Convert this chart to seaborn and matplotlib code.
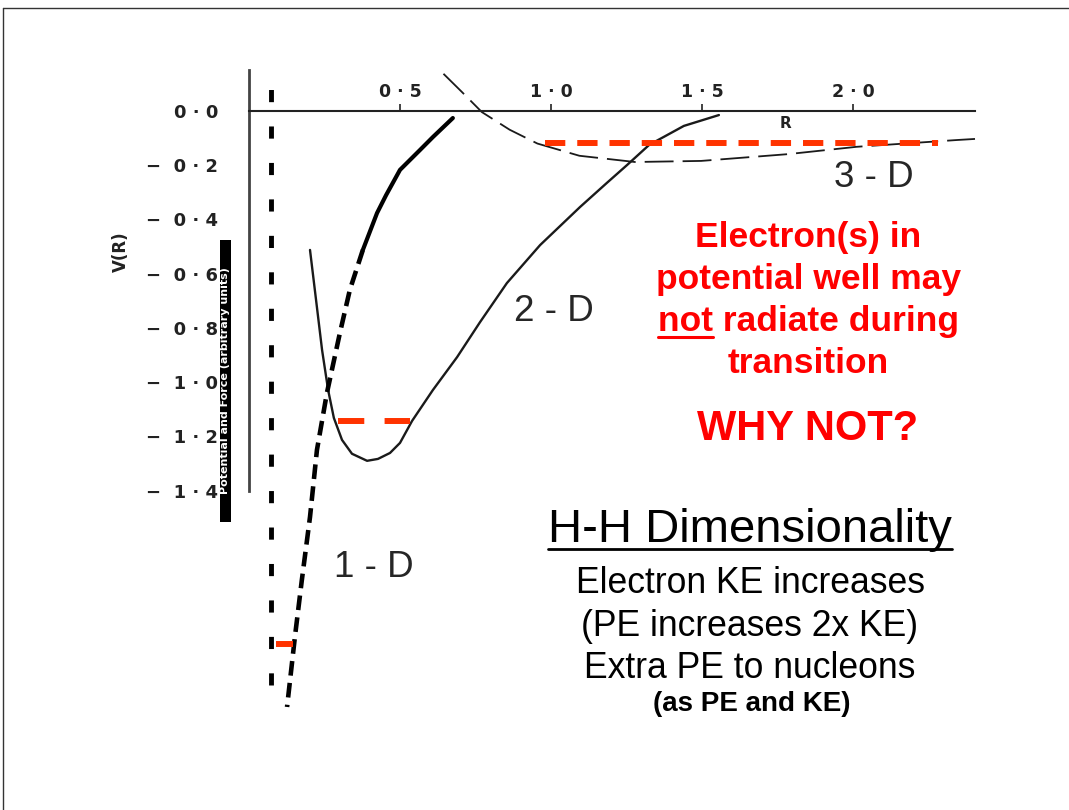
import matplotlib
matplotlib.use("Agg")
import matplotlib.pyplot as plt
import seaborn as sns
import pandas as pd
from matplotlib.patches import Rectangle
from matplotlib.lines import Line2D

# ---------------- data ----------------
# 2-D potential (solid curve)
r_2d = [0.202, 0.222, 0.242, 0.262, 0.281, 0.308, 0.341, 0.391, 0.427, 0.467,
        0.500, 0.540, 0.609, 0.689, 0.765, 0.854, 0.964, 1.096, 1.185, 1.252,
        1.325, 1.440, 1.556]
v_2d = [-0.513, -0.697, -0.882, -1.029, -1.132, -1.213, -1.264, -1.290, -1.283, -1.261,
        -1.224, -1.143, -1.029, -0.908, -0.779, -0.635, -0.495, -0.355, -0.266, -0.200,
        -0.126, -0.056, -0.016]
# 3-D potential (long-dashed curve)
r_3d = [0.644, 0.705, 0.771, 0.863, 0.955, 1.094, 1.278, 1.497, 1.785, 2.012, 2.344, 2.404]
v_3d = [0.136, 0.069, -0.005, -0.070, -0.121, -0.166, -0.189, -0.185, -0.160, -0.133, -0.108, -0.104]
# 1-D potential (heavy dashed curve; first part drawn solid)
r_1d = [0.675, 0.609, 0.566, 0.500, 0.454, 0.424, 0.377, 0.334, 0.301, 0.258, 0.225,
        0.202, 0.175, 0.152, 0.126]
v_1d = [-0.027, -0.097, -0.145, -0.218, -0.311, -0.377, -0.513, -0.660, -0.819, -1.040,
        -1.250, -1.497, -1.729, -1.939, -2.197]
solid_end_1d = 7
# vertical dashed reference line
vline_r = 0.072
vline_v = [0.150, -2.116]
# red energy levels: (r_start, r_end, v)
level_3d = (0.980, 2.281, -0.118)
level_2d = (0.295, 0.533, -1.143)
level_1d = (0.089, 0.146, -1.965)

x_ticks = [0.5, 1.0, 1.5, 2.0]
x_tick_labels = ["0 · 5", "1 · 0", "1 · 5", "2 · 0"]
y_ticks = [0.0, -0.2, -0.4, -0.6, -0.8, -1.0, -1.2, -1.4]
y_tick_labels = ["0 · 0", "−  0 · 2", "−  0 · 4", "−  0 · 6", "−  0 · 8",
                 "−  1 · 0", "−  1 · 2", "−  1 · 4"]

red_lines = ["Electron(s) in", "potential well may", "not radiate during", "transition"]
black_lines = ["Electron KE increases", "(PE increases 2x KE)", "Extra PE to nucleons"]

# ---------------- figure ----------------
sns.set_theme(style="white")
plt.rcParams["font.family"] = ["Liberation Sans", "DejaVu Sans"]

W, H = 1069, 810
fig = plt.figure(figsize=(W / 100, H / 100), dpi=100)
fig.patch.set_facecolor("white")

def fx(px):
    return px / W

def fy(py):
    return 1 - py / H

ax = fig.add_axes([fx(249), fy(720), 726 / W, 650 / H])
ax.set_xlim(0, 2.404)
ax.set_ylim(-2.245, 0.150)
ax.patch.set_visible(False)

# curves
df2 = pd.DataFrame({"R": r_2d, "V": v_2d})
sns.lineplot(data=df2, x="R", y="V", sort=False, ax=ax, color="#1a1a1a", lw=1.7)

df3 = pd.DataFrame({"R": r_3d, "V": v_3d})
sns.lineplot(data=df3, x="R", y="V", sort=False, ax=ax, color="#1a1a1a", lw=1.3, clip_on=False)
ax.lines[-1].set_dashes([16, 5])

df1a = pd.DataFrame({"R": r_1d[:solid_end_1d], "V": v_1d[:solid_end_1d]})
sns.lineplot(data=df1a, x="R", y="V", sort=False, ax=ax, color="black", lw=3.0)
df1b = pd.DataFrame({"R": r_1d[solid_end_1d - 1:], "V": v_1d[solid_end_1d - 1:]})
sns.lineplot(data=df1b, x="R", y="V", sort=False, ax=ax, color="black", lw=3.3)
ax.lines[-1].set_dashes([3.2, 1.6])

ax.vlines(vline_r, vline_v[1], vline_v[0], color="black", lw=3.5,
          linestyles=(0, (2.5, 5)), clip_on=False)

red = "#FF3300"
ax.hlines(level_3d[2], level_3d[0], level_3d[1], color=red, lw=4.3,
          linestyles=(0, (3.4, 2.0)), zorder=5)
ax.hlines(level_2d[2], level_2d[0], level_2d[1], color=red, lw=4.3,
          linestyles=(0, (4.4, 3.4)), zorder=5)
ax.hlines(level_1d[2], level_1d[0], level_1d[1], color=red, lw=4.3, zorder=5)

# axes styling (after seaborn, which sets labels)
ax.set_xlabel("")
ax.set_ylabel("")
axis_col = "#222222"
for s in ["right", "bottom"]:
    ax.spines[s].set_visible(False)
ax.spines["top"].set_position(("data", 0))
ax.spines["top"].set_linewidth(1.5)
ax.spines["top"].set_color(axis_col)
ax.spines["left"].set_bounds(-1.4, 0.150)
ax.spines["left"].set_linewidth(2.0)
ax.spines["left"].set_color("#444444")

ax.xaxis.set_ticks_position("top")
ax.set_xticks(x_ticks)
ax.set_xticklabels(x_tick_labels)
ax.tick_params(axis="x", direction="out", length=5, width=1.2, pad=2,
               labelsize=12.5, colors=axis_col)
ax.set_yticks(y_ticks)
ax.set_yticklabels(y_tick_labels)
ax.tick_params(axis="y", direction="in", length=12, width=1.2, pad=22,
               labelsize=13, colors=axis_col)
for lbl in ax.get_xticklabels() + ax.get_yticklabels():
    lbl.set_fontweight("bold")
    lbl.set_family("DejaVu Sans")

ax.text(1.775, -0.046, "R", ha="center", va="center", fontsize=11,
        fontweight="bold", family="DejaVu Sans", color=axis_col)

# y label and vertical strip
fig.text(fx(121), fy(252), "V(R)", rotation=90, ha="center", va="center",
         fontsize=12, fontweight="bold", family="DejaVu Sans", color=axis_col)
fig.add_artist(Rectangle((fx(220), fy(522)), 11 / W, 282 / H,
                         transform=fig.transFigure, fc="black", ec="none", zorder=10))
fig.text(fx(225.5), fy(381), "Potential and Force (arbitrary units)", rotation=90,
         ha="center", va="center", fontsize=8, fontweight="bold",
         family="DejaVu Sans", color="white", zorder=11)

# dimension labels
fig.text(fx(874), fy(187), "3 - D", ha="center", va="baseline", fontsize=26.5)
fig.text(fx(554), fy(321), "2 - D", ha="center", va="baseline", fontsize=26.5)
fig.text(fx(374), fy(577), "1 - D", ha="center", va="baseline", fontsize=26.5)

# red block
red_txt = "#FF0000"
red_base = [247, 289, 331, 373]
red_objs = []
for line, b in zip(red_lines, red_base):
    t = fig.text(fx(808), fy(b), line, ha="center", va="baseline", fontsize=25.5,
                 fontweight="bold", color=red_txt)
    red_objs.append(t)
fig.text(fx(808), fy(440), "WHY NOT?", ha="center", va="baseline", fontsize=30,
         fontweight="bold", color=red_txt)

# black block
title = fig.text(fx(750), fy(542), "H-H Dimensionality", ha="center", va="baseline",
                 fontsize=34, color="black")
black_base = [593, 636, 678]
for line, b in zip(black_lines, black_base):
    fig.text(fx(750), fy(b), line, ha="center", va="baseline", fontsize=25.6, color="black")
fig.text(fx(752), fy(711), "(as PE and KE)", ha="center", va="baseline", fontsize=20,
         fontweight="bold", color="black")

# underlines computed from text extents
fig.canvas.draw()
renderer = fig.canvas.get_renderer()
bb = title.get_window_extent(renderer)
yl = fy(549)
fig.add_artist(Line2D([bb.x0 / W, bb.x1 / W], [yl, yl], transform=fig.transFigure,
                      color="black", lw=2.0))
line3 = red_objs[2]
bb3 = line3.get_window_extent(renderer)
tmp = fig.text(0, 0, "not", fontsize=25.5, fontweight="bold")
bbn = tmp.get_window_extent(renderer)
tmp.remove()
yl3 = fy(337)
fig.add_artist(Line2D([bb3.x0 / W, (bb3.x0 + bbn.width) / W], [yl3, yl3],
                      transform=fig.transFigure, color=red_txt, lw=2.2))

# slide border (top and left)
fig.add_artist(Line2D([fx(3), 1], [fy(8), fy(8)], transform=fig.transFigure,
                      color="#333333", lw=1.0))
fig.add_artist(Line2D([fx(3), fx(3)], [0, fy(8)], transform=fig.transFigure,
                      color="#333333", lw=1.0))

fig.savefig("out.png", dpi=100)
